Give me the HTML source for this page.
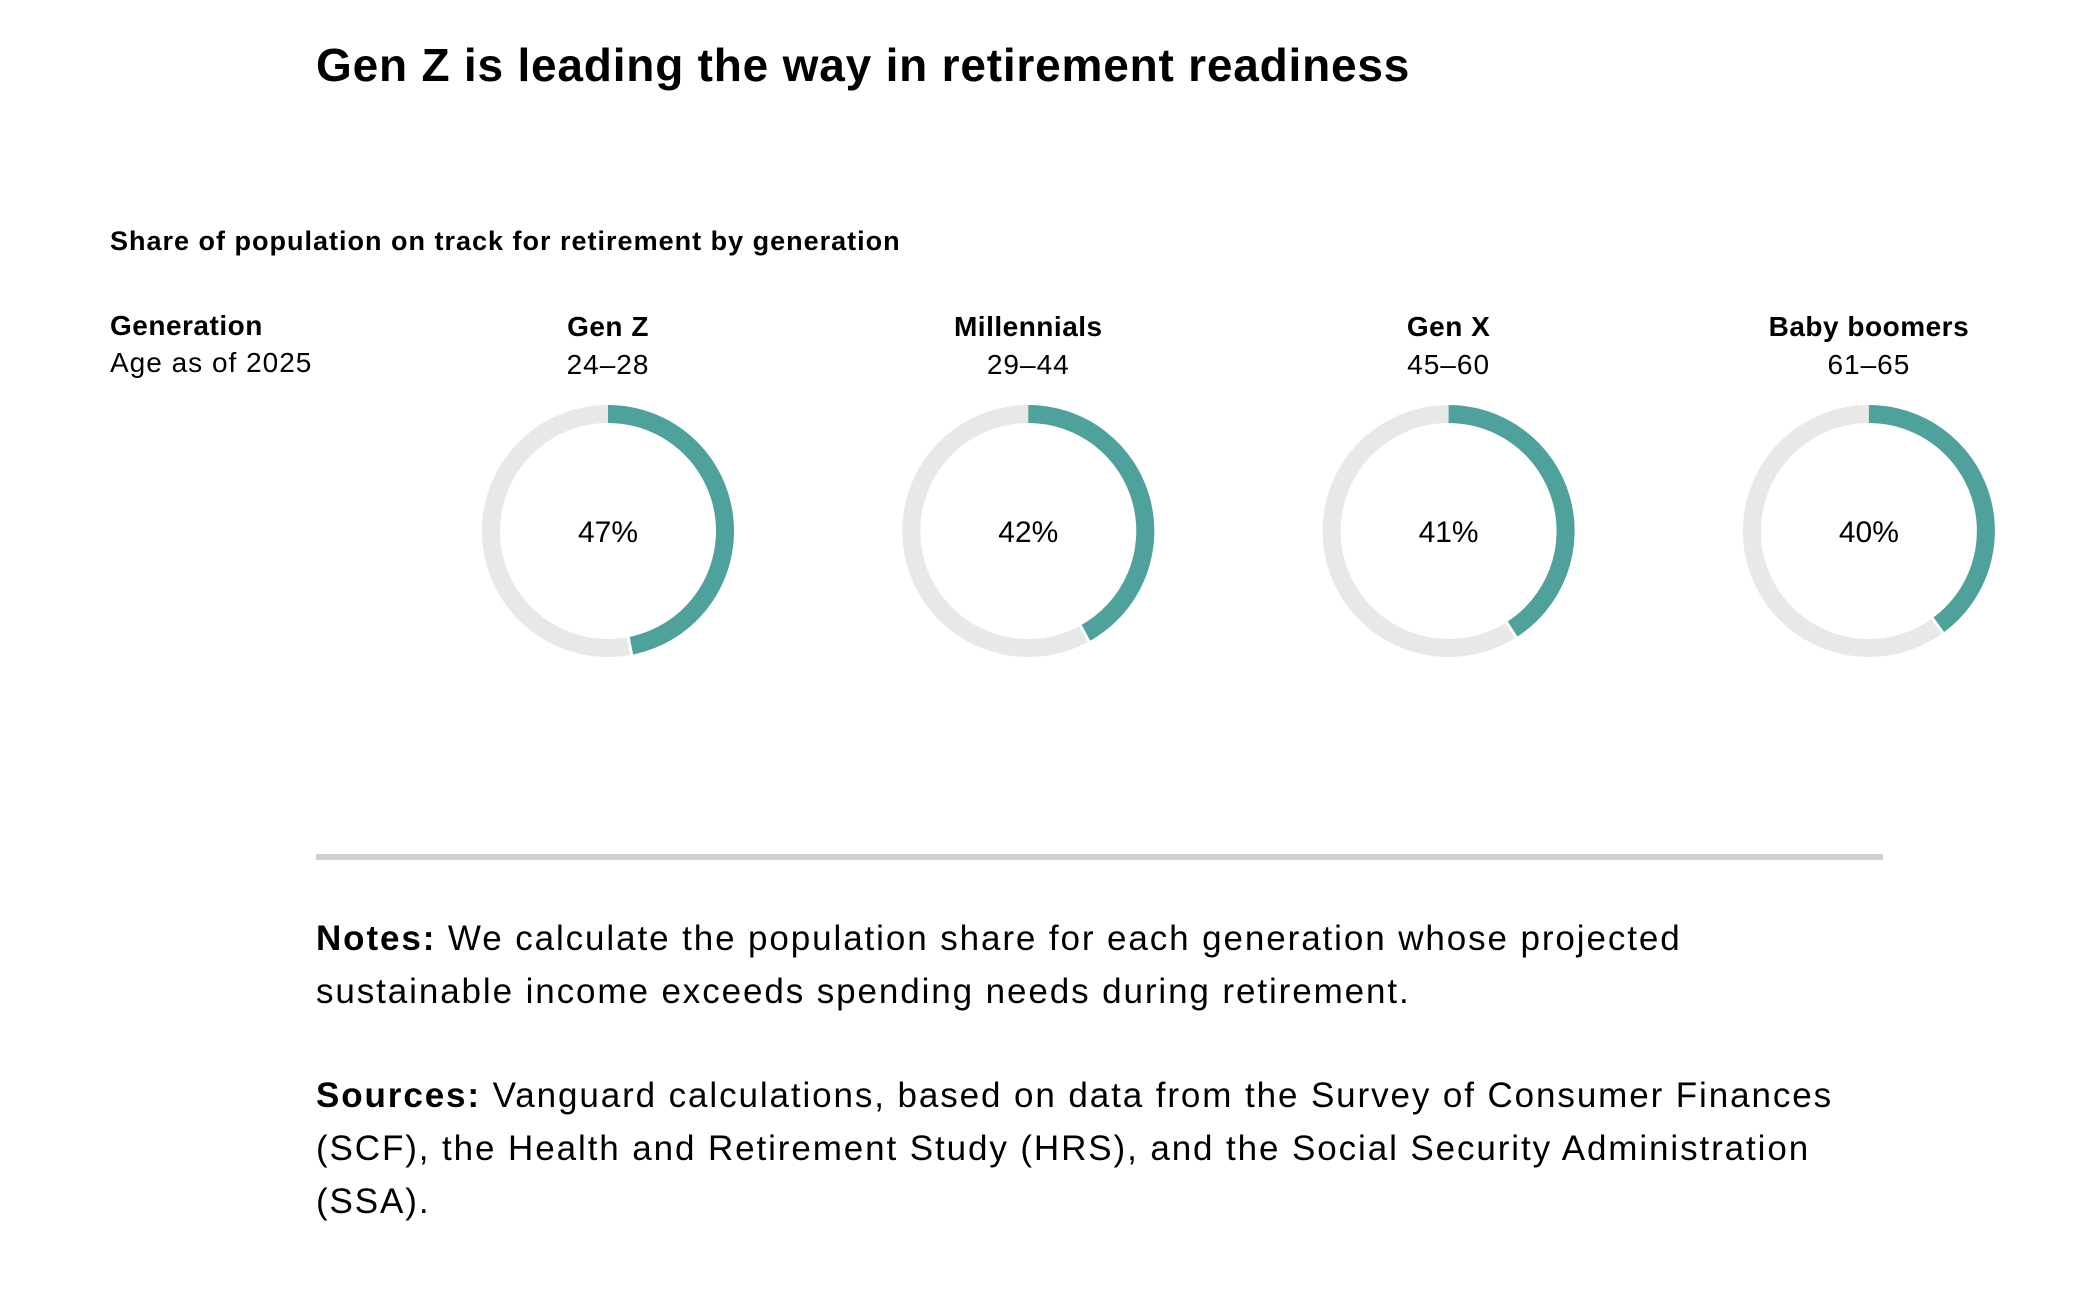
<!DOCTYPE html>
<html><head><meta charset="utf-8">
<style>
html,body{margin:0;padding:0;background:#fff;}
body{width:2074px;height:1308px;position:relative;overflow:hidden;font-family:"Liberation Sans",sans-serif;color:#000;}
.t{position:absolute;white-space:nowrap;}
</style></head>
<body>
<div class="t" style="left:316px;top:38px;font-size:46px;font-weight:bold;letter-spacing:0.8px;">Gen Z is leading the way in retirement readiness</div>
<div class="t" style="left:110px;top:226px;font-size:27px;font-weight:bold;letter-spacing:1px;">Share of population on track for retirement by generation</div>
<div class="t" style="left:110px;top:310px;font-size:28px;font-weight:bold;letter-spacing:0.5px;">Generation</div>
<div class="t" style="left:110px;top:347px;font-size:28px;letter-spacing:1px;">Age as of 2025</div>
<svg id="chart" width="2074" height="760" style="position:absolute;left:0;top:0;"></svg>
<div style="position:absolute;left:316px;top:854px;width:1567px;height:6px;background:#d0d0d0;"></div>
<div class="t" style="left:316px;top:912px;font-size:35px;line-height:53px;letter-spacing:1.9px;"><b>Notes:</b> We calculate the population share for each generation whose projected<br>sustainable income exceeds spending needs during retirement.</div>
<div class="t" style="left:316px;top:1069px;font-size:35px;line-height:53px;letter-spacing:1.9px;"><b>Sources:</b> Vanguard calculations, based on data from the Survey of Consumer Finances<br>(SCF), the Health and Retirement Study (HRS), and the Social Security Administration<br>(SSA).</div>
<script>
const categories = ["Gen Z","Millennials","Gen X","Baby boomers"];
const ageRanges = ["24–28","29–44","45–60","61–65"];
const values = [47,42,41,40];
const labels = ["47%","42%","41%","40%"];

const NS="http://www.w3.org/2000/svg";
const svg=document.getElementById('chart');
const x0=608, dx=420.3, cy=531, R=117, W=18;
function xPos(i){return x0+i*dx;}
function angle(v){return v/100*2*Math.PI;}
function pt(cx,a){return [cx+R*Math.sin(a), cy-R*Math.cos(a)];}
function mk(tag,attrs){const e=document.createElementNS(NS,tag);for(const k in attrs)e.setAttribute(k,attrs[k]);svg.appendChild(e);return e;}
categories.forEach((c,i)=>{
  const cx=xPos(i);
  const h=mk('text',{x:cx,y:336,'text-anchor':'middle','font-size':28,'font-weight':'bold','font-family':'Liberation Sans, sans-serif','letter-spacing':0.5});
  h.textContent=c;
  
  
  const a=mk('text',{x:cx,y:374,'text-anchor':'middle','font-size':28,'font-family':'Liberation Sans, sans-serif','letter-spacing':1});
  a.textContent=ageRanges[i];
  
  
  const bg=mk('circle',{cx:cx,cy:cy,r:R,fill:'none',stroke:'#e8e8e8','stroke-width':W});
  
  
  const ang=angle(values[i]);
  const p0=pt(cx,0), p1=pt(cx,ang);
  const large=ang>Math.PI?1:0;
  const arc=mk('path',{d:`M${p0[0]},${p0[1]} A${R},${R} 0 ${large} 1 ${p1[0]},${p1[1]}`,fill:'none',stroke:'#4fa19c','stroke-width':W});
  
  
  const g1=[cx+(R-W/2-1)*Math.sin(ang),cy-(R-W/2-1)*Math.cos(ang)], g2=[cx+(R+W/2+1)*Math.sin(ang),cy-(R+W/2+1)*Math.cos(ang)];
  const gap=mk('line',{x1:g1[0],y1:g1[1],x2:g2[0],y2:g2[1],stroke:'#fff','stroke-width':3});
  
  
  const v=mk('text',{x:cx,y:cy+11,'text-anchor':'middle','font-size':30,'font-family':'Liberation Sans, sans-serif'});
  v.textContent=labels[i];
  
  
});
</script>
</body></html>
